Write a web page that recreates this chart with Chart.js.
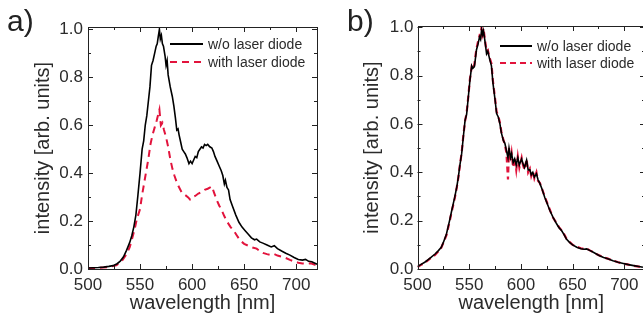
<!DOCTYPE html>
<html>
<head>
<meta charset="utf-8">
<script src="https://cdn.jsdelivr.net/npm/chart.js@4"></script>
<style>
  html, body { margin: 0; padding: 0; background: #fff; overflow: hidden; }
  #wrap { position: relative; width: 643px; height: 321px; overflow: hidden; }
  .box { position: absolute; top: 0; height: 321px; }
  .tag { position: absolute; font: 30px 'Liberation Sans', Arial, sans-serif; color: #222; line-height: 1; }
</style>
</head>
<body>
<div id="wrap">
  <div class="box" style="left:0;width:322px"><canvas id="chartA"></canvas></div>
  <div class="box" style="left:322px;width:326px"><canvas id="chartB"></canvas></div>
  <div class="tag" style="left:7px;top:6px">a)</div>
  <div class="tag" style="left:347px;top:6px">b)</div>
</div>
<script>
// panel a) - w/o laser diode
const aBlackNm = [500,505,510,515,520,524,528,531,534,537,540,542,544,546,548,550,552,553.5,555,556.5,558,559.5,561,562.5,564,565.5,566.5,567.5,568.6,569.5,570.5,571.5,572.5,574,575,576,577,579,581,582.5,584,585.3,586.5,587.5,589,590.5,592,593.5,595,597,598.5,600,601.5,603,604.5,606,607.5,609,610.5,612,613.5,615,617,619,620.5,622,624,626,628,629.5,631,632,633.5,635,636.5,639,642,645,648,651,654,657,660,662,665,668,672,676,679,682,686,690,694,698,702,706,709,712,715,718,720];
const aBlackInt = [0.004,0.005,0.006,0.008,0.011,0.014,0.022,0.033,0.05,0.078,0.11,0.138,0.175,0.225,0.31,0.4,0.5,0.535,0.6,0.64,0.7,0.76,0.85,0.87,0.9,0.93,0.94,0.97,1.0,0.96,0.975,0.94,0.93,0.89,0.85,0.87,0.81,0.76,0.72,0.68,0.63,0.58,0.585,0.56,0.53,0.5,0.49,0.48,0.465,0.44,0.45,0.44,0.455,0.47,0.465,0.49,0.5,0.51,0.505,0.52,0.515,0.52,0.51,0.505,0.49,0.47,0.45,0.43,0.41,0.39,0.355,0.37,0.34,0.33,0.29,0.26,0.225,0.195,0.175,0.16,0.145,0.13,0.122,0.125,0.113,0.108,0.1,0.092,0.097,0.085,0.075,0.066,0.058,0.048,0.04,0.037,0.04,0.032,0.03,0.024,0.02];
// panel a) - with laser diode
const aRedNm = [500,510,520,527,532,537,540,542,545,547,550,552,554,556,558,560,562,564,566,568.6,570,571.5,573,575,577,579,581,583,585,587,590,593,596,598,600,603,606,609,612,615,617,619,621,623.5,626,628.5,631,634,637,640,643,646,650,654,658,662,665,668,672,676,679,682,686,690,694,698,702,706,710,714,718,720];
const aRedInt = [0.004,0.005,0.008,0.015,0.03,0.062,0.09,0.12,0.17,0.21,0.25,0.31,0.36,0.41,0.46,0.52,0.56,0.59,0.62,0.665,0.6,0.61,0.58,0.55,0.51,0.46,0.42,0.39,0.365,0.345,0.32,0.31,0.3,0.29,0.3,0.305,0.315,0.32,0.33,0.335,0.34,0.345,0.32,0.29,0.265,0.245,0.22,0.195,0.175,0.16,0.14,0.12,0.105,0.097,0.09,0.085,0.075,0.067,0.062,0.058,0.062,0.056,0.052,0.046,0.038,0.032,0.026,0.023,0.022,0.024,0.018,0.017];

// panel b) - both curves share the wavelengths
const bNm = [500,503,507,510,513,517,520,523,525,528,531,533,536,538,539.5,541,542.7,544.3,546,547.5,549,550.7,552.4,553.5,555,556,557,558.5,560,561,562,563,563.8,565,566.8,568,570,571.5,573,575,576.5,578,579.7,581,583,584.5,586,587.5,588.5,590,591,592.5,594,595.5,597,598.5,600.7,602,603.5,605.5,607,608.7,610,611.5,613,615,616.5,618.4,620.5,623,625.5,628,631,634.5,637,639.3,642,644,647,650,654,658,661,663.5,667,670,673,676,680,684,689,694,699,704,709,714,718];
const bBlackInt = [0.01,0.018,0.028,0.038,0.048,0.062,0.075,0.09,0.11,0.145,0.2,0.24,0.297,0.34,0.38,0.43,0.477,0.546,0.615,0.64,0.705,0.78,0.84,0.83,0.837,0.87,0.906,0.93,0.96,0.95,0.99,0.97,0.985,0.95,0.89,0.9,0.864,0.84,0.768,0.7,0.643,0.63,0.6,0.565,0.532,0.52,0.49,0.46,0.5,0.46,0.477,0.44,0.456,0.43,0.46,0.43,0.455,0.436,0.42,0.45,0.41,0.41,0.39,0.4,0.38,0.394,0.37,0.353,0.33,0.297,0.27,0.242,0.215,0.187,0.17,0.159,0.14,0.124,0.11,0.1,0.09,0.084,0.082,0.083,0.076,0.069,0.062,0.055,0.048,0.042,0.034,0.028,0.023,0.018,0.014,0.01,0.007];
const bRedInt = [0.008,0.016,0.026,0.036,0.046,0.058,0.072,0.088,0.108,0.14,0.195,0.236,0.292,0.338,0.378,0.43,0.48,0.55,0.612,0.645,0.708,0.785,0.835,0.825,0.845,0.88,0.91,0.94,0.965,0.96,1.005,0.975,0.995,0.955,0.9,0.905,0.87,0.85,0.775,0.705,0.65,0.635,0.605,0.57,0.535,0.515,0.48,0.37,0.5,0.45,0.48,0.42,0.46,0.41,0.465,0.42,0.46,0.43,0.41,0.455,0.4,0.415,0.385,0.405,0.375,0.4,0.365,0.355,0.33,0.3,0.272,0.245,0.213,0.19,0.172,0.16,0.142,0.126,0.112,0.1,0.092,0.086,0.083,0.085,0.076,0.07,0.062,0.056,0.048,0.043,0.035,0.028,0.022,0.018,0.013,0.01,0.006];

const seriesLabels = ['w/o laser diode', 'with laser diode'];
const FONT = "'Liberation Sans', Arial, sans-serif";
const TXT = '#2b2b2b';
const RED = '#e2133c';

const pts = (xs, ys) => xs.map((x, i) => ({ x: x, y: ys[i] }));

// frame with inward ticks on all four sides (Origin style)
const frameTicks = {
  id: 'frameTicks',
  afterDraw(chart) {
    const { ctx, chartArea: a, scales: { x, y } } = chart;
    ctx.save();
    ctx.strokeStyle = '#222';
    ctx.lineWidth = 1;
    ctx.setLineDash([]);
    ctx.strokeRect(Math.round(a.left) + 0.5, Math.round(a.top) + 0.5, Math.round(a.right - a.left), Math.round(a.bottom - a.top));
    ctx.beginPath();
    for (let v = x.min, k = 0; v <= x.max + 1e-6; v += 25, k++) {
      const px = Math.round(x.getPixelForValue(v)) + 0.5;
      const len = k % 2 === 0 ? 5 : 3;
      ctx.moveTo(px, a.bottom); ctx.lineTo(px, a.bottom - len);
      ctx.moveTo(px, a.top); ctx.lineTo(px, a.top + len);
    }
    for (let k = 0; k <= 10; k++) {
      const py = Math.round(y.getPixelForValue(k / 10)) + 0.5;
      const len = k % 2 === 0 ? 5 : 3;
      ctx.moveTo(a.left, py); ctx.lineTo(a.left + len, py);
      ctx.moveTo(a.right, py); ctx.lineTo(a.right - len, py);
    }
    ctx.stroke();
    ctx.restore();
  }
};

// legend drawn inside the plot area
const insideLegend = {
  id: 'insideLegend',
  afterDraw(chart, args, opts) {
    const { ctx, chartArea: a } = chart;
    ctx.save();
    ctx.font = '14px ' + FONT;
    ctx.textBaseline = 'middle';
    chart.data.datasets.slice().sort((p, q) => p.legendIndex - q.legendIndex).forEach((ds, i) => {
      const yy = a.top + opts.y + i * opts.gap;
      const x0 = a.left + opts.x;
      ctx.strokeStyle = ds.borderColor;
      ctx.lineWidth = 2;
      ctx.setLineDash(ds.borderDash || []);
      ctx.beginPath();
      ctx.moveTo(x0, yy); ctx.lineTo(x0 + opts.len, yy);
      ctx.stroke();
      ctx.fillStyle = TXT;
      ctx.fillText(ds.label, x0 + opts.len + 5, yy + 1);
    });
    ctx.restore();
  }
};

function makeChart(id, datasets, o) {
  return new Chart(document.getElementById(id), {
    type: 'line',
    data: { datasets: datasets },
    options: {
      responsive: true,
      maintainAspectRatio: false,
      animation: false,
      layout: { padding: { left: 0, right: o.padRight, top: o.padTop, bottom: 0 } },
      elements: { point: { radius: 0 }, line: { tension: 0 } },
      plugins: {
        legend: { display: false },
        tooltip: { enabled: false },
        insideLegend: o.legend
      },
      scales: {
        x: {
          type: 'linear', min: 500, max: 720,
          grid: { display: false, drawTicks: false },
          border: { display: false },
          ticks: { stepSize: 50, includeBounds: false, padding: 6, color: TXT, font: { family: FONT, size: 17 } },
          title: { display: true, text: 'wavelength [nm]', color: TXT, font: { family: FONT, size: 20 }, padding: { top: 0, bottom: 6 } },
          afterFit: s => { s.height = 52; }
        },
        y: {
          min: 0, max: o.yMax,
          grid: { display: false, drawTicks: false },
          border: { display: false },
          ticks: { stepSize: 0.2, includeBounds: false, padding: o.yPad, color: TXT, font: { family: FONT, size: 17 }, callback: v => v.toFixed(1) },
          title: { display: true, text: 'intensity [arb. units]', color: TXT, font: { family: FONT, size: 20 }, padding: { top: o.titleOff, bottom: 0 } },
          afterFit: s => { s.width = o.yWidth; }
        }
      }
    },
    plugins: [frameTicks, insideLegend]
  });
}

makeChart('chartA', [
  { label: seriesLabels[0], legendIndex: 0, data: pts(aBlackNm, aBlackInt), borderColor: '#000', borderWidth: 1.6 },
  { label: seriesLabels[1], legendIndex: 1, data: pts(aRedNm, aRedInt), borderColor: RED, borderWidth: 2, borderDash: [7, 5] }
], { padRight: 5, padTop: 27, yMax: 1.01, yPad: 5, yWidth: 88, titleOff: 31, legend: { x: 82, y: 17, gap: 18, len: 33 } });

makeChart('chartB', [
  { label: seriesLabels[0], legendIndex: 0, data: pts(bNm, bBlackInt), borderColor: '#000', borderWidth: 1.6 },
  { label: seriesLabels[1], legendIndex: 1, data: pts(bNm, bRedInt), borderColor: RED, borderWidth: 2.2, borderDash: [6, 4] }
], { padRight: 3, padTop: 26, yMax: 1.005, yPad: 4, yWidth: 95.5, titleOff: 38, legend: { x: 82.5, y: 20, gap: 17, len: 32 } });
</script>
</body>
</html>
